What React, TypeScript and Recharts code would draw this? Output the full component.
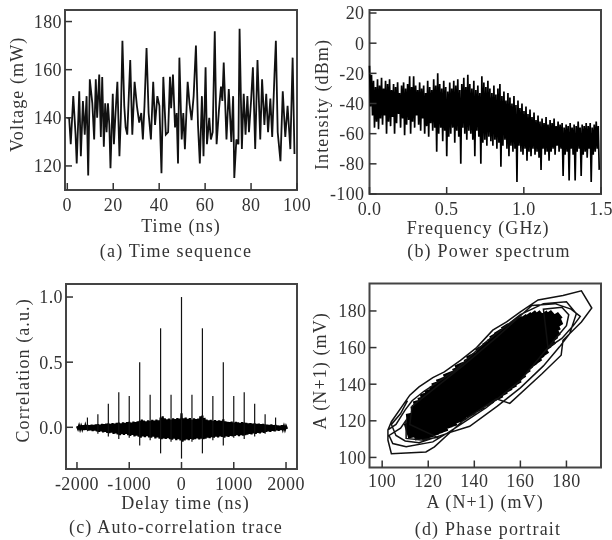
import { LineChart, Line, XAxis, YAxis, ReferenceArea } from 'recharts'

// (a) time sequence
const timeNs = [
  0, 0.8, 1.5, 2.6, 3.6, 4.1, 5.2, 5.9, 6.8, 7.6, 8.4, 9.1, 9.8, 10.9, 11.7, 12.4, 13, 13.9, 14.6, 15.2,
  15.9, 16.5, 17.1, 17.7, 18.3, 18.8, 19.8, 20.3, 21, 21.8, 22.7, 23.3, 24, 24.8, 25.4, 26.1, 27.4, 28.3, 29.3, 30.3,
  31.3, 32.2, 32.9, 33.6, 34.5, 35.4, 36.4, 37.4, 38.2, 39.2, 40.1, 41, 41.8, 42.9, 43.9, 44.7, 45.2, 46, 46.9, 47.6,
  48.2, 48.8, 49.8, 50.5, 51.2, 52.4, 53.2, 54.1, 55, 56, 56.9, 57.7, 58.6, 59.3, 60.2, 60.8, 61.8, 62.5, 63.3, 64.2,
  65, 66, 66.9, 67.5, 68.1, 69.3, 70.3, 71.4, 72.2, 72.7, 73.6, 74.5, 75, 76, 76.8, 77.6, 78.4, 79.1, 80, 80.8,
  81.8, 82.8, 84, 84.8, 85.8, 86.6, 87.4, 88.4, 89.2, 90.2, 90.8, 91.6, 92.8, 93.8, 94.9, 95.9, 97.1, 98.1, 98.9,
]
const voltageMw = [
  140, 140, 129, 149, 133, 121, 151, 124, 147, 133, 149, 116, 156, 146, 131, 156, 140, 158, 132, 157,
  128, 146, 134, 146, 137, 119, 150, 129, 142, 155, 124, 140, 172, 145, 136, 133, 164, 133, 155, 145,
  138, 142, 131, 145, 169, 142, 131, 155, 137, 149, 145, 117, 157, 133, 134, 157, 144, 158, 136, 142,
  121, 165, 131, 142, 127, 155, 146, 139, 149, 170, 137, 121, 149, 124, 161, 129, 140, 131, 134, 176,
  129, 143, 153, 147, 163, 131, 152, 130, 149, 115, 131, 129, 177, 127, 150, 133, 149, 134, 147, 161,
  127, 164, 131, 156, 137, 150, 134, 148, 132, 158, 172, 134, 122, 151, 132, 145, 127, 165, 125,
]

// (b) power spectrum: top and bottom of the trace in steps of spectrumStep GHz
const spectrumStep = 0.013
const spectrumHigh = [
  -15, -21, -25, -29, -24, -28, -23, -30, -25, -27,
  -24, -31, -27, -29, -26, -33, -28, -26, -30, -27,
  -22, -29, -22, -28, -31, -26, -30, -28, -33, -25,
  -29, -31, -24, -28, -20, -27, -30, -25, -29, -32,
  -26, -30, -25, -28, -24, -31, -27, -23, -29, -21,
  -27, -30, -25, -31, -28, -33, -22, -26, -29, -25,
  -30, -33, -28, -34, -30, -27, -35, -32, -38, -33,
  -36, -40, -35, -41, -38, -43, -40, -45, -42, -47,
  -44, -49, -46, -51, -48, -52, -50, -53, -49, -54,
  -51, -53, -50, -55, -52, -54, -53, -56, -54, -55,
  -53, -56, -54, -55, -52, -56, -54, -55, -53, -55,
  -53, -56, -54, -52, -55,
]
const spectrumLow = [
  -42, -48, -56, -52, -57, -50, -54, -48, -60, -52,
  -55, -49, -60, -53, -47, -56, -50, -61, -54, -51,
  -60, -52, -56, -48, -54, -58, -50, -60, -55, -62,
  -53, -58, -56, -72, -60, -56, -65, -58, -75, -62,
  -60, -56, -66, -58, -62, -80, -56, -60, -64, -58,
  -60, -64, -75, -58, -62, -80, -66, -64, -68, -62,
  -65, -68, -64, -70, -66, -82, -68, -64, -70, -75,
  -68, -72, -70, -92, -68, -72, -74, -70, -78, -72,
  -75, -70, -74, -72, -76, -84, -70, -74, -72, -78,
  -72, -70, -74, -68, -72, -70, -88, -74, -72, -91,
  -70, -74, -91, -72, -70, -88, -74, -72, -76, -70,
  -92, -74, -72, -70, -84,
]

// (c) auto-correlation: body of the trace every corrStep ns, plus the delay peaks
const corrStart = -2000
const corrStep = 40
const corrHigh = [
  0.008, 0.012, 0.01, 0.015, 0.012, 0.018, 0.016, 0.02, 0.018, 0.022,
  0.024, 0.02, 0.026, 0.024, 0.028, 0.03, 0.026, 0.032, 0.028, 0.034,
  0.036, 0.03, 0.038, 0.034, 0.04, 0.042, 0.036, 0.044, 0.04, 0.046,
  0.05, 0.06, 0.052, 0.046, 0.054, 0.05, 0.058, 0.052, 0.06, 0.054,
  0.075, 0.085, 0.07, 0.062, 0.068, 0.06, 0.07, 0.064, 0.072, 0.068,
  0.107,
  0.07, 0.074, 0.066, 0.072, 0.06, 0.07, 0.064, 0.068, 0.085, 0.09,
  0.072, 0.06, 0.054, 0.058, 0.05, 0.056, 0.05, 0.054, 0.05, 0.062,
  0.046, 0.042, 0.04, 0.044, 0.036, 0.042, 0.038, 0.034, 0.04, 0.036,
  0.034, 0.03, 0.032, 0.028, 0.03, 0.026, 0.028, 0.024, 0.026, 0.022,
  0.02, 0.018, 0.022, 0.016, 0.018, 0.014, 0.012, 0.015, 0.01, 0.008,
]
const corrLow = [
  -0.012, -0.016, -0.014, -0.02, -0.018, -0.025, -0.022, -0.028, -0.024, -0.03,
  -0.035, -0.03, -0.038, -0.034, -0.042, -0.045, -0.04, -0.05, -0.046, -0.055,
  -0.06, -0.052, -0.058, -0.05, -0.06, -0.066, -0.058, -0.07, -0.064, -0.072,
  -0.08, -0.07, -0.076, -0.068, -0.078, -0.08, -0.072, -0.085, -0.078, -0.088,
  -0.092, -0.085, -0.09, -0.084, -0.092, -0.095, -0.088, -0.098, -0.092, -0.1,
  -0.11,
  -0.1, -0.094, -0.098, -0.09, -0.096, -0.092, -0.086, -0.094, -0.088, -0.092,
  -0.088, -0.08, -0.084, -0.076, -0.08, -0.072, -0.078, -0.07, -0.074, -0.08,
  -0.07, -0.074, -0.066, -0.07, -0.066, -0.06, -0.068, -0.06, -0.064, -0.06,
  -0.056, -0.05, -0.054, -0.046, -0.05, -0.042, -0.046, -0.038, -0.042, -0.034,
  -0.03, -0.034, -0.026, -0.03, -0.022, -0.026, -0.02, -0.016, -0.018, -0.012,
]
const peakLags = [-1800, -1600, -1400, -1200, -1000, -800, -600, -400, -200, 0, 200, 400, 600, 800, 1000, 1200, 1400, 1600, 1800]
const peakTops = [0.075, 0.1, 0.18, 0.27, 0.24, 0.5, 0.25, 0.76, 0.25, 1.0, 0.25, 0.76, 0.24, 0.5, 0.24, 0.27, 0.18, 0.1, 0.075]
const peakBottoms = [-0.03, -0.05, -0.07, -0.09, -0.08, -0.14, -0.1, -0.2, -0.11, -0.24, -0.11, -0.2, -0.1, -0.14, -0.08, -0.09, -0.07, -0.05, -0.03]

// (d) phase portrait: outlying loops, then the dense core of the attractor
const loopX = [
  102.5, 104, 112, 116, 122, 127, 134, 141, 148, 154, 160, 167.7, 178.5, 186.5, 191, 186.5, 178.5, 177.7, 169.5, 155.4,
  149.6, 135, 122.7, 119, 104, 102.5, 102.5, 106, 110, 113, 118, 124, 132, 145, 160, 170, 180, 184.3, 181.4, 177, 170,
  160, 150, 138, 127.8, 122, 110.4, 104.6, 103, 108, 110.4, 110.4, 117, 124, 112, 113, 120,
  135, 150, 165, 175, 182, 186, 183, 178, 172, 170, 178, 181, 180, 174,
  160, 145, 128, 116, 110, 106, 104, 108, 111,
]
const loopY = [
  115, 119.5, 134, 138.5, 143.6, 146.7, 153, 160, 169.5, 174, 179.5, 186, 188.5, 191, 181.6, 174, 164, 155.8, 145.8, 129.5,
  132, 120, 105.8, 103, 102, 109.5, 115, 118, 126, 131, 136, 141, 148, 163, 178, 184, 185, 178.5, 167.6, 160.4, 150,
  138, 128, 117, 113, 108.5, 105.8, 107.6, 112, 116, 120.4, 110.4, 109.5, 111, 118, 128, 135,
  150, 166, 183, 184, 181, 177, 172, 165, 160, 181, 182, 178, 172, 163,
  142, 127, 113, 108, 109, 112, 118, 124, 131,
]
const coreX = [
  111, 113, 112, 116, 114, 119, 115, 121, 117, 123, 118, 125, 120, 127, 122, 129, 123, 131, 125, 133,
  127, 135, 128, 137, 130, 139, 132, 141, 133, 143, 135, 145, 137, 147, 138, 149, 140, 151, 142, 153,
  143, 155, 145, 157, 147, 159, 148, 161, 150, 163, 152, 164, 153, 166, 155, 168, 157, 169, 159, 171,
  161, 172, 163, 174, 165, 175, 167, 176, 170, 176, 172, 177, 175, 177,
]
const coreY = [
  119, 111, 124, 110, 128, 110, 131, 111, 133, 112, 135, 113, 137, 114, 139, 116, 141, 117, 143, 119,
  144, 120, 146, 122, 147, 123, 149, 125, 151, 126, 152, 128, 154, 129, 156, 131, 157, 132, 160, 134,
  161, 136, 163, 138, 165, 140, 167, 143, 169, 146, 170, 148, 172, 150, 173, 152, 175, 154, 176, 156,
  177, 159, 178, 161, 179, 164, 179, 166, 179, 169, 179, 172, 178, 175,
]

const timeTable = timeNs.map((t, i) => ({ x: t, y: voltageMw[i] }))

const spectrumTable = spectrumHigh.flatMap((top, i) => [
  { x: i * spectrumStep, y: top },
  { x: (i + 0.5) * spectrumStep, y: spectrumLow[i] },
])

const corrBody = corrHigh.flatMap((top, i) => [
  { x: corrStart + i * corrStep, y: top },
  { x: corrStart + (i + 0.5) * corrStep, y: corrLow[i] },
])

const loopTable = loopX.map((x, i) => ({ x, y: loopY[i] }))
const coreTable = coreX.map((x, i) => ({ x, y: coreY[i] }))

const INK = '#333'
const FONT = '"Liberation Serif", serif'
const tickStyle = { fontSize: 18, fill: INK, fontFamily: FONT, letterSpacing: 0.4 }
const labelStyle = { fontSize: 18, fill: INK, fontFamily: FONT, letterSpacing: 1.1 }
const tickLine = { stroke: INK, strokeWidth: 1.5 }

function Caption({ left, top, text }: { left: number; top: number; text: string }) {
  return (
    <div
      style={{
        position: 'absolute',
        left,
        top,
        width: 306,
        textAlign: 'center',
        font: `18px ${FONT}`,
        letterSpacing: 1.2,
        color: INK,
        lineHeight: '20px',
      }}
    >
      {text}
    </div>
  )
}

function Box({ x, y }: { x: number[]; y: number[] }) {
  return <ReferenceArea x1={x[0]} x2={x[1]} y1={y[0]} y2={y[1]} fill="none" stroke="#444" strokeWidth={2} ifOverflow="extendDomain" />
}

export default function App() {
  return (
    <div style={{ position: 'absolute', left: 0, top: 0, width: 612, height: 540, background: '#fff', overflow: 'hidden', filter: 'blur(0.4px)' }}>
      <div style={{ position: 'absolute', left: 0, top: 0 }}>
        <LineChart width={318} height={270} data={timeTable} margin={{ top: 10, right: 21, left: 0, bottom: 0 }}>
          <XAxis
            dataKey="x"
            type="number"
            domain={[-1, 100]}
            ticks={[0, 20, 40, 60, 80, 100]}
            interval={0}
            height={80}
            axisLine={false}
            tickSize={-7}
            tickMargin={15}
            tick={tickStyle}
            tickLine={tickLine}
            label={{ value: 'Time (ns)', position: 'insideTop', dy: 24, style: labelStyle }}
          />
          <YAxis
            type="number"
            domain={[110, 184.8]}
            ticks={[120, 140, 160, 180]}
            interval={0}
            width={65}
            axisLine={false}
            tickSize={-7}
            tickMargin={10}
            tick={tickStyle}
            tickLine={tickLine}
            label={{ value: 'Voltage (mW)', angle: -90, position: 'insideLeft', dx: 12, dy: 52, style: labelStyle }}
          />
          <Line dataKey="y" stroke="#111" strokeWidth={1.8} dot={false} isAnimationActive={false} />
          {Box({ x: [-1, 100], y: [110, 184.8] })}
        </LineChart>
      </div>

      <div style={{ position: 'absolute', left: 306, top: 0 }}>
        <LineChart width={306} height={270} data={spectrumTable} margin={{ top: 10, right: 11, left: 0, bottom: 0 }}>
          <XAxis
            dataKey="x"
            type="number"
            domain={[0, 1.5]}
            ticks={[0, 0.5, 1, 1.5]}
            tickFormatter={(v: number) => v.toFixed(1)}
            interval={0}
            height={76}
            axisLine={false}
            tickSize={-7}
            tickMargin={15}
            tick={tickStyle}
            tickLine={tickLine}
            label={{ value: 'Frequency (GHz)', position: 'insideTop', dx: -7, dy: 22, style: labelStyle }}
          />
          <YAxis
            type="number"
            domain={[-100, 22]}
            ticks={[-100, -80, -60, -40, -20, 0, 20]}
            interval={0}
            width={63.5}
            axisLine={false}
            tickSize={-7}
            tickMargin={12}
            tick={tickStyle}
            tickLine={tickLine}
            label={{ value: 'Intensity (dBm)', angle: -90, position: 'insideLeft', dx: 11, dy: 68, style: labelStyle }}
          />
          <Line dataKey="y" stroke="#000" strokeWidth={1.7} dot={false} isAnimationActive={false} />
          {Box({ x: [0, 1.5], y: [-100, 22] })}
        </LineChart>
      </div>

      <div style={{ position: 'absolute', left: 0, top: 270 }}>
        <LineChart width={306} height={270} margin={{ top: 14, right: 9, left: 0, bottom: 0 }}>
          <XAxis
            dataKey="x"
            type="number"
            domain={[-2210, 2210]}
            ticks={[-2000, -1000, 0, 1000, 2000]}
            interval={0}
            height={71}
            axisLine={false}
            tickSize={-7}
            tickMargin={15}
            tick={tickStyle}
            tickLine={tickLine}
            label={{ value: 'Delay time (ns)', position: 'insideTop', dx: 4, dy: 22, style: labelStyle }}
          />
          <YAxis
            type="number"
            domain={[-0.32, 1.1]}
            ticks={[0, 0.5, 1]}
            tickFormatter={(v: number) => v.toFixed(1)}
            interval={0}
            width={66}
            axisLine={false}
            tickSize={-7}
            tickMargin={10}
            tick={tickStyle}
            tickLine={tickLine}
            label={{ value: 'Correlation (a.u.)', angle: -90, position: 'insideLeft', dx: 18, dy: 66, style: labelStyle }}
          />
          <Line data={corrBody} dataKey="y" stroke="#000" strokeWidth={2.2} dot={false} isAnimationActive={false} />
          {peakLags.map((lag, i) => (
            <Line
              key={lag}
              data={[
                { x: lag, y: peakTops[i] },
                { x: lag, y: peakBottoms[i] },
              ]}
              dataKey="y"
              stroke="#111"
              strokeWidth={1.2}
              dot={false}
              isAnimationActive={false}
            />
          ))}
          {Box({ x: [-2210, 2210], y: [-0.32, 1.1] })}
        </LineChart>
      </div>

      <div style={{ position: 'absolute', left: 306, top: 270 }}>
        <LineChart width={306} height={270} margin={{ top: 13.5, right: 11, left: 0, bottom: 0 }}>
          <XAxis
            dataKey="x"
            type="number"
            domain={[94.5, 195]}
            ticks={[100, 120, 140, 160, 180]}
            interval={0}
            height={72.5}
            axisLine={false}
            tickSize={-7}
            tickMargin={14}
            tick={tickStyle}
            tickLine={tickLine}
            label={{ value: 'A (N+1) (mV)', position: 'insideTop', dy: 23, style: labelStyle }}
          />
          <YAxis
            type="number"
            domain={[94.5, 195]}
            ticks={[100, 120, 140, 160, 180]}
            interval={0}
            width={63.5}
            axisLine={false}
            tickSize={-7}
            tickMargin={10}
            tick={tickStyle}
            tickLine={tickLine}
            label={{ value: 'A (N+1) (mV)', angle: -90, position: 'insideLeft', dx: 9, dy: 54, style: labelStyle }}
          />
          <Line data={coreTable} dataKey="y" stroke="#000" strokeWidth={8} dot={false} isAnimationActive={false} />
          <Line data={loopTable} dataKey="y" stroke="#111" strokeWidth={1.5} dot={false} isAnimationActive={false} />
          {Box({ x: [94.5, 195], y: [94.5, 195] })}
        </LineChart>
      </div>

      <Caption left={23} top={241} text="(a) Time sequence" />
      <Caption left={336} top={241} text="(b) Power spectrum" />
      <Caption left={23} top={517} text="(c) Auto-correlation trace" />
      <Caption left={335} top={519} text="(d) Phase portrait" />
    </div>
  )
}
